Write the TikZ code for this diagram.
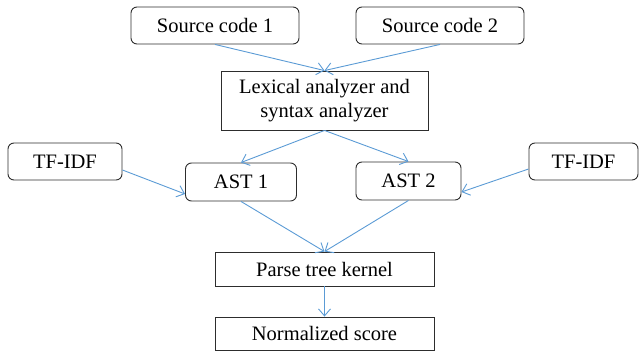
\documentclass[tikz,border=0pt]{standalone}
\usepackage{fontspec}
\setmainfont{Liberation Serif}
\usetikzlibrary{arrows.meta}
\definecolor{arrblue}{RGB}{91,155,213}
\definecolor{boxgray}{RGB}{45,45,45}
\tikzset{
  box/.style={draw=boxgray, line width=0.9pt, inner sep=0pt, align=center,
    font=\fontsize{20.5pt}{24pt}\selectfont},
  rbox/.style={box, rounded corners=6pt},
  conn/.style={draw=arrblue, line width=0.9pt,
    -{Straight Barb[length=7pt,width=12pt,line width=0.9pt]}}
}
\begin{document}
\begin{tikzpicture}[x=1pt,y=-1pt]
\useasboundingbox (0,0) rectangle (640,351);
\node[rbox, minimum width=168pt, minimum height=37pt] (src1) at (215,25.5) {Source code 1};
\node[rbox, minimum width=168pt, minimum height=37pt] (src2) at (440,25.5) {Source code 2};
\node[box, minimum width=207pt, minimum height=59pt] (lex) at (324.5,100.5) {Lexical analyzer and\\syntax analyzer};
\node[rbox, minimum width=114pt, minimum height=37pt] (tf1) at (65,161.5) {TF-IDF};
\node[rbox, minimum width=111pt, minimum height=38pt] (ast1) at (241,182) {AST 1};
\node[rbox, minimum width=105pt, minimum height=38pt] (ast2) at (408.5,181) {AST 2};
\node[rbox, minimum width=109pt, minimum height=37pt] (tf2) at (583.5,161.5) {TF-IDF};
\node[box, minimum width=219pt, minimum height=34pt] (ptk) at (324.5,269) {Parse tree kernel};
\node[box, minimum width=219pt, minimum height=33pt] (ns) at (324.5,333.5) {Normalized score};
\draw[conn] (src1.south) -- (lex.north);
\draw[conn] (src2.south) -- (lex.north);
\draw[conn] (lex.south) -- (ast1.north);
\draw[conn] (lex.south) -- (ast2.north);
\draw[conn] ([yshift=-8.5pt]tf1.east) -- ([yshift=-12pt]ast1.west);
\draw[conn] ([yshift=-7.5pt]tf2.west) -- ([yshift=-11pt]ast2.east);
\draw[conn] (ast1.south) -- (ptk.north);
\draw[conn] (ast2.south) -- (ptk.north);
\draw[conn] (ptk.south) -- (ns.north);
\end{tikzpicture}
\end{document}
